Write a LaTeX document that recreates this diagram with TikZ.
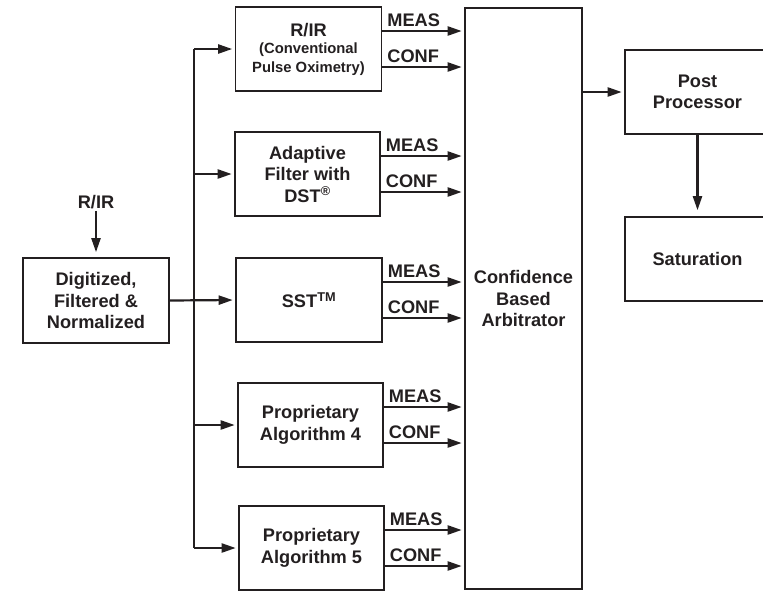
\documentclass[tikz,border=0pt]{standalone}
\usepackage{fontspec}
\setmainfont{Liberation Sans}
\usetikzlibrary{arrows.meta}
\definecolor{ink}{HTML}{231F20}
\newcommand{\bigf}{\fontsize{18.2}{21.5}\selectfont\bfseries}
\newcommand{\smf}{\fontsize{14.8}{19}\selectfont\bfseries}
\tikzset{
  box/.style={draw=ink, line width=1.6pt, rectangle, inner sep=0pt, align=center,
    text=ink, font=\bigf, minimum width=146pt, minimum height=84pt},
  arr/.style={draw=ink, line width=2.2pt, -{Triangle[length=14pt,width=9pt]}, shorten >=2.5pt},
  wire/.style={draw=ink, line width=2.2pt},
  lbl/.style={text=ink, font=\bigf, anchor=south west, inner sep=0pt}
}
\begin{document}
\begin{tikzpicture}[x=1pt,y=-1pt]
\useasboundingbox (0,0) rectangle (763,590);
\begin{scope}
\clip (0,0) rectangle (763,590);
% input
\node[text=ink, font=\bigf, inner sep=1pt] (rir) at (96,202) {R/IR};
\node[box, minimum height=85pt] (dig) at (96,300.5) {Digitized,\\Filtered \&\\Normalized};
% algorithm boxes
\node[box] (b1) at (308.5,49) {\raisebox{-2pt}{R/IR}\\[-2pt]{\smf (Conventional}\\[-3pt]{\smf Pulse Oximetry)}};
\node[box, minimum width=145pt] (b2) at (307.5,174) {Adaptive\\Filter with\\DST\textsuperscript{®}};
\node[box] (b3) at (309,300) {SST\textsuperscript{TM}};
\node[box, minimum width=145pt] (b4) at (310.5,425) {Proprietary\\Algorithm 4};
\node[box, minimum width=145pt, minimum height=84pt] (b5) at (311.5,548) {Proprietary\\Algorithm 5};
% arbitrator and outputs
\node[box, minimum width=117pt, minimum height=581pt] (arb) at (523.5,298.5) {Confidence\\Based\\Arbitrator};
\node[box, minimum width=145pt] (post) at (697.5,92) {Post\\Processor};
\node[box, minimum width=145pt] (sat) at (697.5,259) {Saturation};
% bus
\coordinate (bus) at (194,0);
\draw[wire] (b1.west -| bus) -- (b5.west -| bus);
\foreach \b in {b1,b2,b4,b5}{
  \draw[arr] (\b.west -| bus) -- (\b.west);
}
\draw[arr] (dig.east) -- (b3.west);
\draw[arr, shorten <=1pt, shorten >=5pt] (rir.south) -- (dig.north);
% MEAS / CONF
\foreach \b in {b1,b2,b3,b4,b5}{
  \draw[arr] ([yshift=18pt]\b.east) -- ([yshift=18pt]\b.east -| arb.west)
     node[lbl, pos=0, xshift=4pt, yshift=3pt] {MEAS};
  \draw[arr] ([yshift=-18pt]\b.east) -- ([yshift=-18pt]\b.east -| arb.west)
     node[lbl, pos=0, xshift=4pt, yshift=3pt] {CONF};
}
\draw[arr] (arb.east |- post.west) -- (post.west);
\draw[arr, shorten >=6pt] (post.south) -- (sat.north);
\end{scope}
\end{tikzpicture}
\end{document}
